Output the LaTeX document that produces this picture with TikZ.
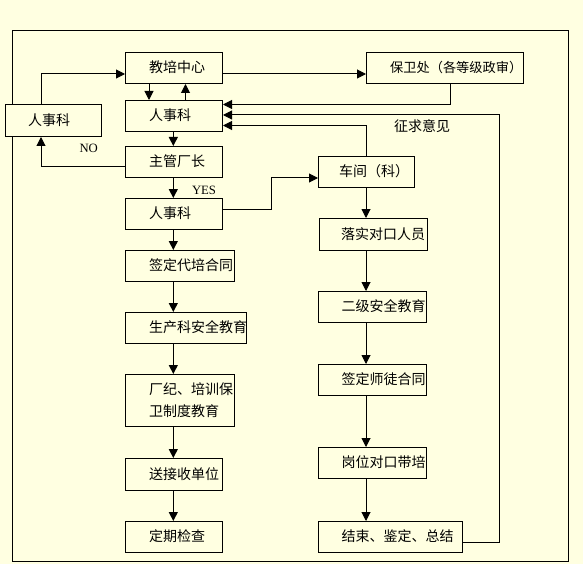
\documentclass[tikz,border=0pt]{standalone}
\usepackage{fontspec}
\setmainfont{Noto Sans CJK SC}
\newfontfamily\lserif{Liberation Serif}
\usetikzlibrary{arrows.meta}
\definecolor{bgc}{HTML}{FFFFE1}
\tikzset{
  box/.style={draw=black,line width=1pt,fill=bgc,inner sep=0pt,rectangle},
  txt/.style={inner sep=0pt,font=\fontsize{14}{16}\selectfont},
  lat/.style={inner sep=0pt,font=\lserif\fontsize{12.7}{14}\selectfont},
  conn/.style={line width=1pt,draw=black},
  arr/.style={conn,-{Triangle[length=9pt,width=9pt]}}
}
\newcommand\bx[7]{%
  \node[box,anchor=north west,minimum width={#4-#2},minimum height={#5-#3}] (#1) at (#2,#3) {};
  \node[txt,anchor=west] (#1t) at (#6,{(#3+#5)/2}) {#7};}
\begin{document}
\begin{tikzpicture}[x=1pt,y=-1pt]
\useasboundingbox (0,0) rectangle (583,564);
\fill[bgc] (0,0) rectangle (583,564);
\draw[conn] (12.5,31) rectangle (568,561);
\coordinate (lc) at (173.3,0);
\coordinate (rc) at (366,0);
% left / centre column
\bx{jp}{125}{52}{222}{83}{149}{教培中心}
\bx{rsa}{125}{100}{222}{131}{149}{人事科}
\bx{zg}{125}{146}{222}{177}{149}{主管厂长}
\bx{rsb}{125}{198}{222}{229}{149}{人事科}
\bx{lrs}{5}{104}{101}{136}{28}{人事科}
\bx{qd}{125}{250}{234}{281}{149}{签定代培合同}
\bx{sc}{125}{312}{246}{343}{149}{生产科安全教育}
\node[box,anchor=north west,minimum width=109,minimum height=52] (cz) at (125,374) {};
\node[txt,anchor=west,align=left,font=\fontsize{14}{21.7}\selectfont] (czt) at (149,400.5) {厂纪、培训保\\卫制度教育};
\bx{ss}{125}{458}{222}{490}{149}{送接收单位}
\bx{dq}{125}{521}{222}{552}{149}{定期检查}
% right column
\node[box,anchor=north west,minimum width=157,minimum height=31] (bw) at (366,52) {};
\node[txt,anchor=west,font=\fontsize{13.2}{16}\selectfont] (bwt) at (390,67.5) {保卫处（各等级政审）};
\bx{cj}{318}{156}{414}{187}{339}{车间（科）}
\bx{lu}{319}{218}{427}{250}{341}{落实对口人员}
\bx{ej}{318}{291}{426}{322}{341.5}{二级安全教育}
\bx{qs}{318}{364}{426}{395}{341.5}{签定师徒合同}
\bx{gw}{318}{447}{426}{478}{341.5}{岗位对口带培}
\bx{js}{318}{521}{462}{552}{341.5}{结束、鉴定、总结}
% connectors top
\draw[arr] ([xshift=24pt]jp.south west) -- ([xshift=24pt]rsa.north west);
\draw[arr] ([xshift=60.5pt]rsa.north west) -- ([xshift=60.5pt]jp.south west);
\draw[arr] (lc |- rsa.south) -- (lc |- zg.north);
\draw[arr] (lc |- zg.south) -- (lc |- rsb.north);
\draw[arr] ([yshift=-4.5pt]zg.west) -| ([xshift=36pt]lrs.south west);
\draw[arr] ([xshift=36pt]lrs.north west) |- ([yshift=-6pt]jp.west);
\draw[arr] ([yshift=-6pt]jp.east) -- ([yshift=-6pt]bw.west);
\draw[arr] ([xshift=84pt]bw.south west) |- ([yshift=11.5pt]rsa.east);
\draw[arr] ([yshift=-5.5pt]js.east) -- ++(36,0) |- ([yshift=1pt]rsa.east);
\draw[arr] (rc |- cj.north) |- ([yshift=-9.5pt]rsa.east);
\draw[arr] ([yshift=5pt]rsb.east) -- ++(48,0) |- ([yshift=-6pt]cj.west);
% left chain
\draw[arr] (lc |- rsb.south) -- (lc |- qd.north);
\draw[arr] (lc |- qd.south) -- (lc |- sc.north);
\draw[arr] (lc |- sc.south) -- (lc |- cz.north);
\draw[arr] (lc |- cz.south) -- (lc |- ss.north);
\draw[arr] (lc |- ss.south) -- (lc |- dq.north);
% right chain
\draw[arr] (rc |- cj.south) -- (rc |- lu.north);
\draw[arr] (rc |- lu.south) -- (rc |- ej.north);
\draw[arr] (rc |- ej.south) -- (rc |- qs.north);
\draw[arr] (rc |- qs.south) -- (rc |- gw.north);
\draw[arr] (rc |- gw.south) -- (rc |- js.north);
% labels
\node[lat] (no) at (88.7,148) {NO};
\node[lat] (yes) at (204,190) {YES};
\node[txt] (zq) at (422,126) {征求意见};
\end{tikzpicture}
\end{document}
